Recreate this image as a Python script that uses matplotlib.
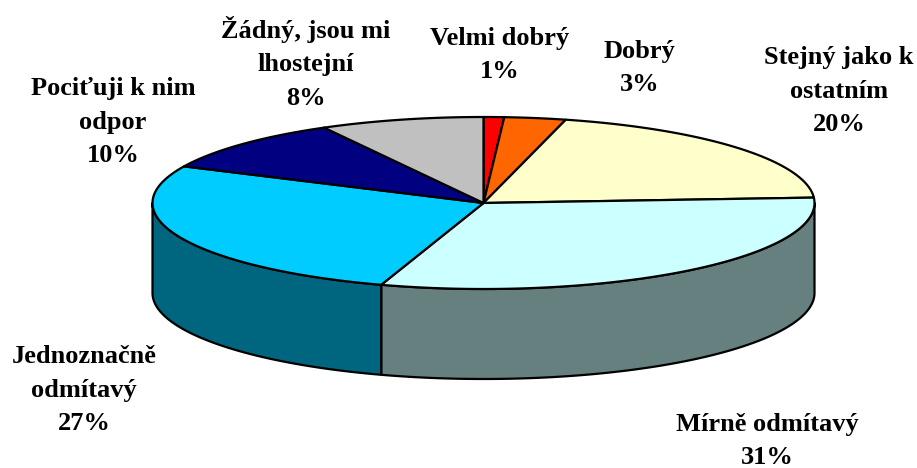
import matplotlib
matplotlib.use("Agg")
import matplotlib.pyplot as plt
import numpy as np
from matplotlib.patches import Polygon

labels = ["Velmi dobrý", "Dobrý", "Stejný jako k\nostatním", "Mírně odmítavý",
          "Jednoznačně\nodmítavý", "Pociťuji k nim\nodpor", "Žádný, jsou mi\nlhostejní"]
values = [1, 3, 20, 31, 27, 10, 8]
top_colors = ["#ff0000", "#ff6600", "#ffffcc", "#ccffff", "#00ccff", "#000080", "#c0c0c0"]
side_colors = ["#800000", "#803300", "#808066", "#668080", "#006680", "#000040", "#606060"]

# label centres in pixels
label_x = [500, 640, 839, 767, 84, 113, 306]
label_y = [55, 68, 91, 441, 390, 122, 63]

cx, cy = 483.5, 203
rx, ry = 331, 86
depth = 90

plt.rcParams["font.family"] = ["Liberation Serif", "DejaVu Serif"]
fig = plt.figure(figsize=(9.17, 4.68), dpi=100)
ax = fig.add_axes([0, 0, 1, 1])
ax.set_xlim(0, 917)
ax.set_ylim(468, 0)
ax.axis("off")


def rim(a0, a1, n=120):
    t = np.radians(np.linspace(a0, a1, n))
    return cx + rx * np.sin(t), cy - ry * np.cos(t)


angles = np.concatenate([[0], np.cumsum(values)]) * 3.6

# side walls first, only the front half of the ellipse shows
for i in range(len(values)):
    a0, a1 = max(angles[i], 90), min(angles[i + 1], 270)
    if a1 <= a0:
        continue
    x, y = rim(a0, a1)
    pts = np.r_[np.c_[x, y], np.c_[x[::-1], y[::-1] + depth]]
    ax.add_patch(Polygon(pts, fc=side_colors[i], ec="black", lw=1.6, joinstyle="round"))

for i in range(len(values)):
    x, y = rim(angles[i], angles[i + 1])
    pts = np.r_[[[cx, cy]], np.c_[x, y]]
    ax.add_patch(Polygon(pts, fc=top_colors[i], ec="black", lw=1.6, joinstyle="round"))

for i in range(len(values)):
    ax.text(label_x[i], label_y[i], f"{labels[i]}\n{values[i]}%", ha="center", va="center",
            fontsize=19, fontweight="bold", linespacing=1.57, color="black")

fig.savefig("out.png", dpi=100)
